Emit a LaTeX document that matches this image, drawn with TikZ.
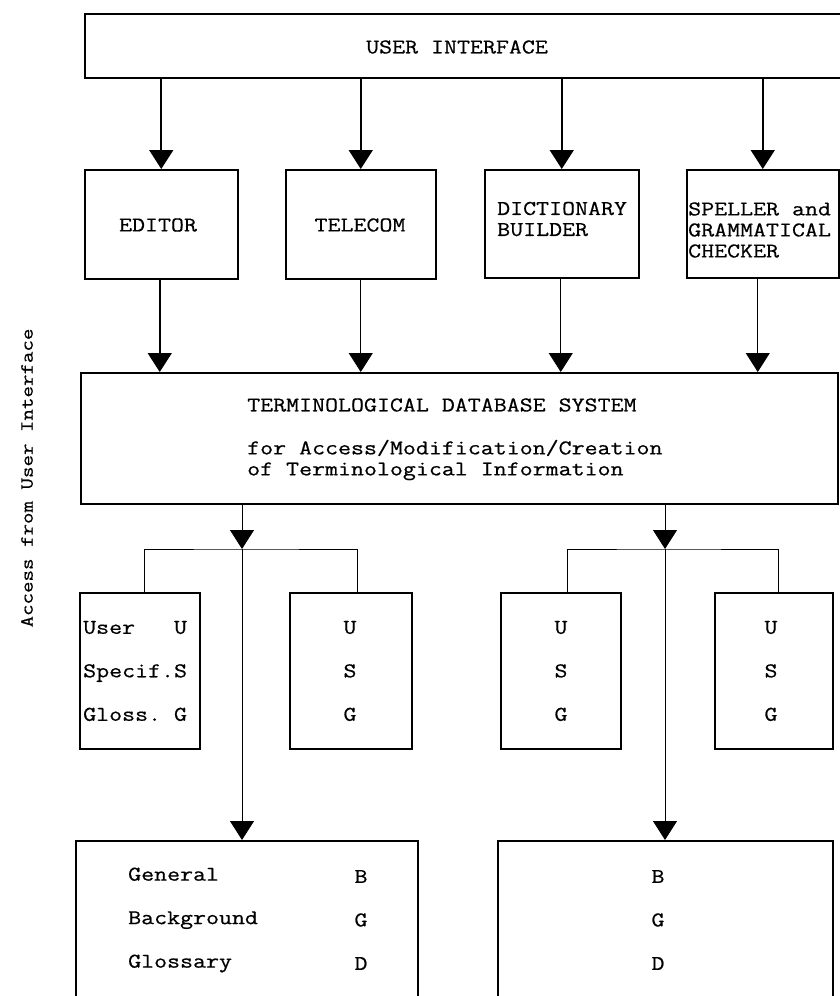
\documentclass[tikz,border=0pt]{standalone}
\usepackage{fontspec}
\setmonofont{Latin Modern Mono}[FakeStretch=1.2, FakeBold=0.6]
\usetikzlibrary{arrows.meta}
\begin{document}
\begin{tikzpicture}[x=1pt,y=-1pt,
  box/.style={draw, line width=1.5pt, inner sep=0pt, anchor=north west},
  txt/.style={font=\ttfamily\fontsize{21}{21}\selectfont, inner sep=0pt},
  rows/.style={font=\ttfamily\fontsize{21}{43.5}\selectfont, inner sep=0pt},
  arr/.style={line width=1.6pt, -{Triangle[length=19pt,width=24pt]}},
  thinarr/.style={line width=1pt, -{Triangle[length=19pt,width=24pt]}},
  wire/.style={line width=1pt}]
\useasboundingbox (0,0) rectangle (839,996);
% top
\node[box, minimum width=770pt, minimum height=64pt] (ui) at (84,13) {};
\node[txt] (uit) at (457,47) {USER INTERFACE};
% modules
\node[box, minimum width=153pt, minimum height=109pt] (ed) at (84,169) {};
\node[box, minimum width=150pt, minimum height=109pt] (tel) at (285,169) {};
\node[box, minimum width=154pt, minimum height=108pt] (dic) at (484,169) {};
\node[box, minimum width=152pt, minimum height=108pt] (spe) at (686,169) {};
\node[txt] (edt) at (158,225) {EDITOR};
\node[txt] (telt) at (360,225) {TELECOM};
\node[txt, anchor=west, align=left] (dict) at (497,219) {DICTIONARY\\BUILDER};
\node[txt, anchor=west, align=left] (spet) at (688,230) {SPELLER and\\GRAMMATICAL\\CHECKER};
\draw[arr] (ed.north |- ui.south) -- (ed.north);
\draw[arr] (tel.north |- ui.south) -- (tel.north);
\draw[arr] (dic.north |- ui.south) -- (dic.north);
\draw[arr] (spe.north |- ui.south) -- (spe.north);
% database
\node[box, minimum width=757pt, minimum height=131pt] (tds) at (80,372) {};
\node[txt, anchor=west] (tdst1) at (247,405) {TERMINOLOGICAL DATABASE SYSTEM};
\node[txt, anchor=west, align=left] (tdst2) at (247,460) {for Access/Modification/Creation\\of Terminological Information};
\draw[arr] ([xshift=-1.5pt]ed.south) -- ([xshift=-1.5pt]ed.south |- tds.north);
\draw[thinarr] (tel.south) -- (tel.south |- tds.north);
\draw[thinarr] ([xshift=-1pt]dic.south) -- ([xshift=-1pt]dic.south |- tds.north);
\draw[thinarr] ([xshift=-5pt]spe.south) -- ([xshift=-5pt]spe.south |- tds.north);
% glossary boxes
\node[box, minimum width=120pt, minimum height=156pt] (s1) at (79,592) {};
\node[box, minimum width=122pt, minimum height=156pt] (s2) at (289,592) {};
\node[box, minimum width=120pt, minimum height=156pt] (s3) at (500,592) {};
\node[box, minimum width=118pt, minimum height=156pt] (s4) at (714,592) {};
\node[rows, anchor=west, align=left] (s1t) at (83,671) {User\ \ \ U\\Specif.S\\Gloss.\ G};
\node[rows, align=center] (s2t) at (350,671) {U\\S\\G};
\node[rows, align=center] (s3t) at (561,671) {U\\S\\G};
\node[rows, align=center] (s4t) at (771,671) {U\\S\\G};
\coordinate (j1) at (242,549);
\coordinate (j2) at (665,549);
\draw[thinarr] (tds.south -| j1) -- (j1);
\draw[thinarr] (tds.south -| j2) -- (j2);
\draw[wire] ([xshift=5pt]s1.north) |- (j1) -| ([xshift=7pt]s2.north);
\draw[wire] ([xshift=7pt]s3.north) |- (j2) -| ([xshift=5pt]s4.north);
% bottom boxes
\node[box, minimum width=342pt, minimum height=180pt] (g1) at (75,840) {};
\node[box, minimum width=335pt, minimum height=180pt] (g2) at (497,840) {};
\draw[thinarr] (j1) -- (j1 |- g1.north);
\draw[thinarr] (j2) -- (j2 |- g2.north);
\node[rows, anchor=west, align=left] (g1a) at (128,920) {General\\Background\\Glossary};
\node[rows, align=center] (g1b) at (361,920) {B\\G\\D};
\node[rows, align=center] (g2t) at (658,920) {B\\G\\D};
% side label
\node[font=\ttfamily\fontsize{18.6}{20}\selectfont, rotate=90, inner sep=0pt] (side) at (27,478) {Access from User Interface};
\end{tikzpicture}
\end{document}
